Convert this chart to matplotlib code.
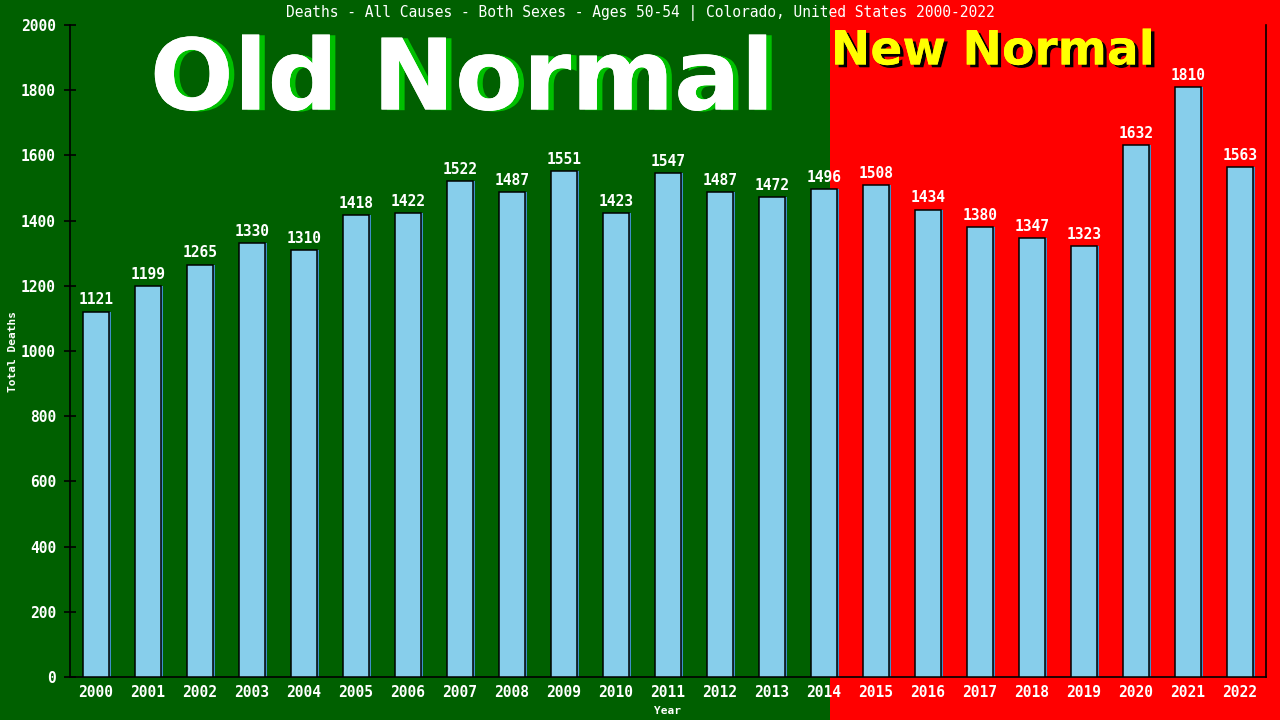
import numpy as np
import matplotlib.pyplot as plt
import matplotlib.patheffects as pe
from matplotlib.patches import Rectangle

years = [str(y) for y in range(2000, 2023)]
deaths = [1121, 1199, 1265, 1330, 1310, 1418, 1422, 1522, 1487, 1551, 1423,
          1547, 1487, 1472, 1496, 1508, 1434, 1380, 1347, 1323, 1632, 1810, 1563]

title = 'Deaths - All Causes - Both Sexes - Ages 50-54 | Colorado, United States 2000-2022'
mono = 'DejaVu Sans Mono'

fig = plt.figure(figsize=(12.8, 7.2), dpi=100)
fig.patch.set_facecolor('#006000')
# red "new normal" half of the background
fig.patches.append(Rectangle((830 / 1280, 0), 1 - 830 / 1280, 1, transform=fig.transFigure,
                             facecolor='#ff0000', edgecolor='none', zorder=-5))

ax = fig.add_axes([70 / 1280, 43 / 720, 1196 / 1280, 652 / 720])
ax.set_facecolor('none')

x = np.arange(len(years))
ax.bar(x + 0.03, deaths, width=0.5, color='#3f8fc8', zorder=2)
ax.bar(x, deaths, width=0.5, color='#87ceeb', edgecolor='black', linewidth=1.1, zorder=3)

for xi, d in zip(x, deaths):
    ax.annotate(str(d), (xi, d), xytext=(0, 3), textcoords='offset points',
                ha='center', va='bottom', color='white', fontsize=10.5,
                family=mono, fontweight='bold')

ax.set_xlim(-0.5, len(years) - 0.5)
ax.set_ylim(0, 2000)
ax.set_xticks(x)
ax.set_xticklabels(years)
ax.set_yticks(range(0, 2001, 200))
ax.tick_params(axis='x', length=0, pad=6, labelcolor='white', labelsize=10.5)
ax.tick_params(axis='y', length=8, direction='inout', width=1.2, color='black',
               labelcolor='white', labelsize=10.5, pad=6)
for lab in ax.get_xticklabels() + ax.get_yticklabels():
    lab.set_family(mono)
    lab.set_fontweight('bold')

ax.spines['top'].set_visible(False)
for s in ['left', 'right', 'bottom']:
    ax.spines[s].set_color('black')
    ax.spines[s].set_linewidth(1.2)

ax.set_xlabel('Year', color='white', fontsize=8, family=mono, fontweight='bold', labelpad=4)
ax.set_ylabel('Total Deaths', color='white', fontsize=8, family=mono, fontweight='bold', labelpad=2)

fig.text(640 / 1280, 1 - 13 / 720, title, ha='center', va='center', color='white',
         fontsize=10.5, family=mono)

fig.text(462 / 1280, 1 - 82 / 720, 'Old Normal', ha='center', va='center', color='white',
         fontsize=71, fontweight='bold', family='DejaVu Sans', zorder=5,
         path_effects=[pe.withSimplePatchShadow(offset=(4, -0.5), shadow_rgbFace='#00c000', alpha=1),
                       pe.Normal()])
fig.text(993 / 1280, 1 - 52 / 720, 'New Normal', ha='center', va='center', color='#ffff00',
         fontsize=34, fontweight='bold', family='DejaVu Sans', zorder=5,
         path_effects=[pe.withSimplePatchShadow(offset=(2.5, -2), shadow_rgbFace='black', alpha=1),
                       pe.Normal()])

fig.savefig('out.png', dpi=100, facecolor=fig.get_facecolor())
